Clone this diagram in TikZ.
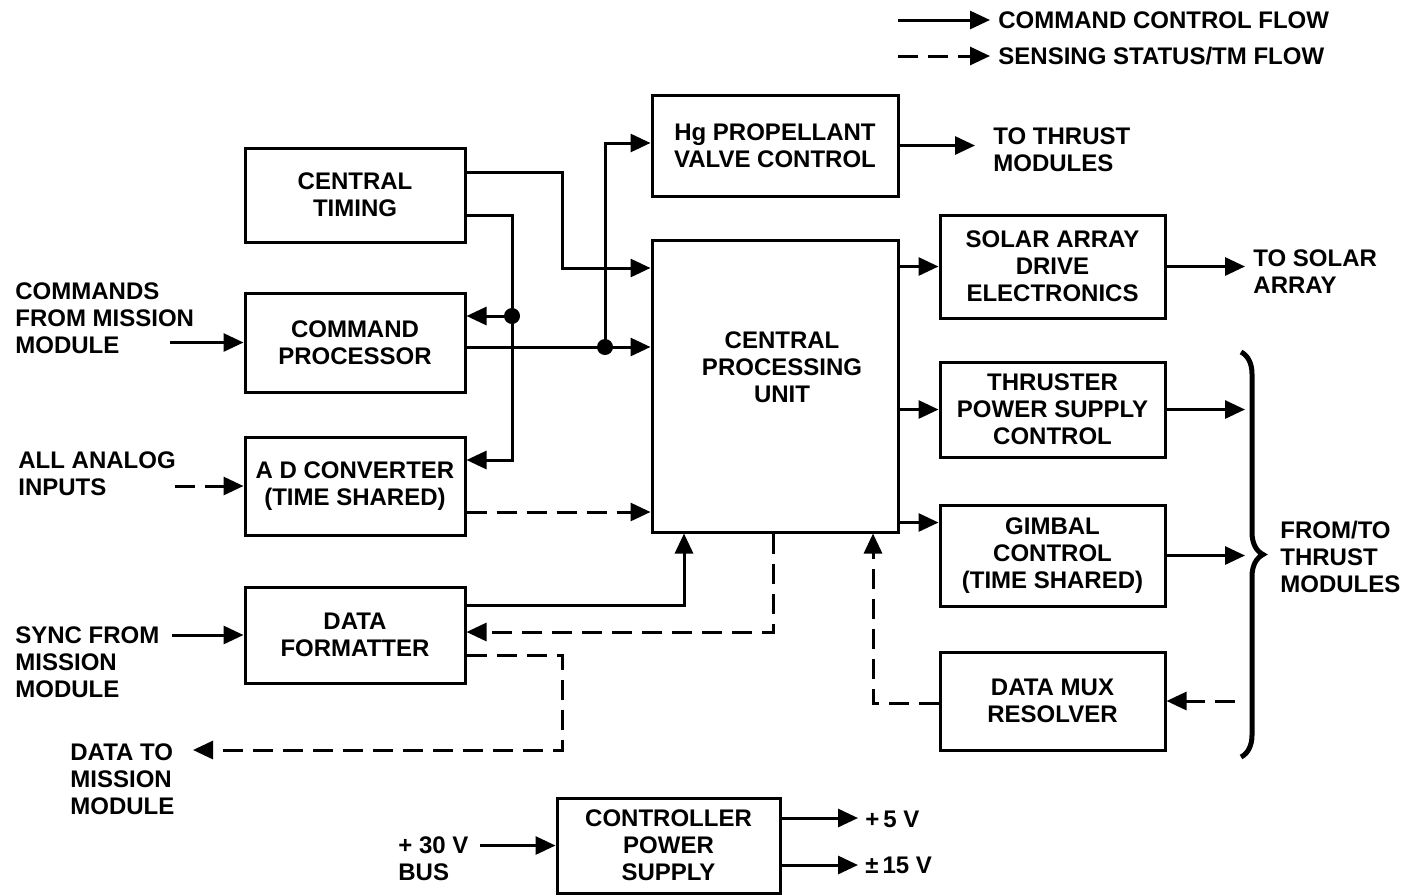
\documentclass[tikz,border=0pt]{standalone}
\usepackage{fontspec}
\setmainfont{Liberation Sans}
\usetikzlibrary{arrows.meta,calc,decorations.pathreplacing}

\tikzset{
    box/.style={draw, line width=1.5pt, align=center, inner sep=0pt},
    flow/.style={line width=1.5pt, -{Triangle[length=10pt,width=9pt]}},
    sense/.style={flow, dash pattern=on 10pt off 5pt},
    txt/.style={align=left, inner sep=0pt, anchor=west},
}

\begin{document}
\begin{tikzpicture}[x=0.5pt, y=-0.5pt,
        every node/.style={font=\bfseries\fontsize{12}{13.4}\selectfont}]
        \useasboundingbox (0,0) rectangle (1406,895);

        \node[box, minimum width=123pt, minimum height=50.5pt] (hg) at (775,145.5) {Hg PROPELLANT\\VALVE CONTROL};
        \node[box, minimum width=110pt, minimum height=47pt] (ct) at (355,195) {CENTRAL\\TIMING};
        \node[box, minimum width=123pt, minimum height=146pt] (cpu) at (775,386) {};
        \node[align=center, inner sep=0pt] (cpuname) at (782,367) {CENTRAL\\PROCESSING\\UNIT};
        \node[box, minimum width=112.5pt, minimum height=51.5pt] (sade) at (1052.5,266.5) {SOLAR ARRAY\\DRIVE\\ELECTRONICS};
        \node[box, minimum width=110pt, minimum height=49.5pt] (cp) at (355,342.5) {COMMAND\\PROCESSOR};
        \node[box, minimum width=112.5pt, minimum height=47.5pt] (tpsc) at (1052.5,409.5) {THRUSTER\\POWER SUPPLY\\CONTROL};
        \node[box, minimum width=110pt, minimum height=49pt] (adc) at (355,486) {A D CONVERTER\\(TIME SHARED)};
        \node[box, minimum width=112.5pt, minimum height=50.5pt] (gc) at (1052.5,555.5) {GIMBAL\\CONTROL\\(TIME SHARED)};
        \node[box, minimum width=110pt, minimum height=48pt] (df) at (355,635) {DATA\\FORMATTER};
        \node[box, minimum width=112.5pt, minimum height=49pt] (dmr) at (1052.5,701) {DATA MUX\\RESOLVER};
        \node[box, minimum width=111.5pt, minimum height=47.5pt] (cps) at (668.5,845.5) {CONTROLLER\\POWER\\SUPPLY};

        \node[txt] (lg1) at (998,20) {COMMAND CONTROL FLOW};
        \node[txt] (lg2) at (998,56) {SENSING STATUS/TM FLOW};
        \node[txt] (thr) at (993,149.5) {TO THRUST\\MODULES};
        \node[txt] (sol) at (1253,272) {TO SOLAR\\ARRAY};
        \node[txt] (cmd) at (15,318) {COMMANDS\\FROM MISSION\\MODULE};
        \node[txt] (ana) at (18,473.5) {ALL ANALOG\\INPUTS};
        \node[txt] (sync) at (15,662) {SYNC FROM\\MISSION\\MODULE};
        \node[txt] (dto) at (70,779) {DATA TO\\MISSION\\MODULE};
        \node[txt] (ft) at (1280,557) {FROM/TO\\THRUST\\MODULES};
        \node[txt] (bus) at (398,858.5) {+ 30 V\\BUS};
        \node[txt] (p5) at (865,819) {+\,5 V};
        \node[txt] (p15) at (865,865) {±\,15 V};

        \coordinate (lg1s) at (898,20);
        \coordinate (lg1e) at (990,20);
        \coordinate (lg2s) at (898,56);
        \coordinate (lg2e) at (990,56);
        \coordinate (thr-in) at (975,145.5);
        \coordinate (sol-in) at (1245,266.5);
        \coordinate (tp-out) at (1245,409.5);
        \coordinate (gc-out) at (1245,555.5);
        \coordinate (mux-in) at (1235,701);
        \coordinate (cmd-out) at (170,342.5);
        \coordinate (ana-out) at (175,486);
        \coordinate (sync-out) at (172,635);
        \coordinate (dto-in) at (193,750);
        \coordinate (bus-out) at (480,845.5);
        \coordinate (p5-in) at (858,818);
        \coordinate (p15-in) at (858,865);
        \coordinate (ct-bend) at (562,268);
        \coordinate (tbus) at (512,316);
        \coordinate (cbus) at (605,347);
        \coordinate (df-bend) at (562,750);
        \coordinate (adc-out) at ([yshift=-13pt]adc.east);
        \coordinate (gc-in) at ([yshift=16.5pt]gc.west);
        \coordinate (br-top) at (1241,352);
        \coordinate (br-bot) at (1241,757);

        \draw[flow] (lg1s) -- (lg1e);
        \draw[sense] (lg2s) -- (lg2e);

        \draw[flow] ([yshift=11.5pt]ct.east) -| (ct-bend) -- (ct-bend -| cpu.west);
        \draw[flow] ([yshift=-10pt]ct.east) -| (tbus) |- ([yshift=13pt]adc.east);
        \draw[flow] (tbus) -- (tbus -| cp.east);
        \fill (tbus) circle (4pt);

        \draw[flow] ([yshift=-2.25pt]cp.east) -- (cbus) -- (cbus -| cpu.west);
        \draw[flow] (cbus) |- ([yshift=1.25pt]hg.west);
        \fill (cbus) circle (4pt);

        \draw[sense] (adc-out) -- (adc-out -| cpu.west);
        \draw[flow] ([yshift=15pt]df.east) -| ([xshift=-45.5pt]cpu.south);
        \draw[sense] ([xshift=-1pt]cpu.south) |- ([yshift=1.5pt]df.east);
        \draw[sense] ([yshift=-10pt]df.east) -| (df-bend) -- (dto-in);
        \draw[sense] ([yshift=-1pt]dmr.west) -| ([xshift=49pt]cpu.south);
        \draw[sense] (mux-in) -- (dmr.east);

        \draw[flow] (cpu.east |- sade.west) -- (sade.west);
        \draw[flow] (cpu.east |- tpsc.west) -- (tpsc.west);
        \draw[flow] (cpu.east |- gc-in) -- (gc-in);

        \draw[flow] (hg.east) -- (thr-in);
        \draw[flow] (sade.east) -- (sol-in);
        \draw[flow] (tpsc.east) -- (tp-out);
        \draw[flow] (gc.east) -- (gc-out);

        \draw[flow] (cmd-out) -- (cp.west);
        \draw[sense] (ana-out) -- (adc.west);
        \draw[flow] (sync-out) -- (df.west);
        \draw[flow] (bus-out) -- (cps.west);
        \draw[flow] ([yshift=13.75pt]cps.east) -- (p5-in);
        \draw[flow] ([yshift=-9.75pt]cps.east) -- (p15-in);

        \draw[line width=2.5pt, decorate, decoration={brace, amplitude=11pt}] (br-top) -- (br-bot);
\end{tikzpicture}
\end{document}
